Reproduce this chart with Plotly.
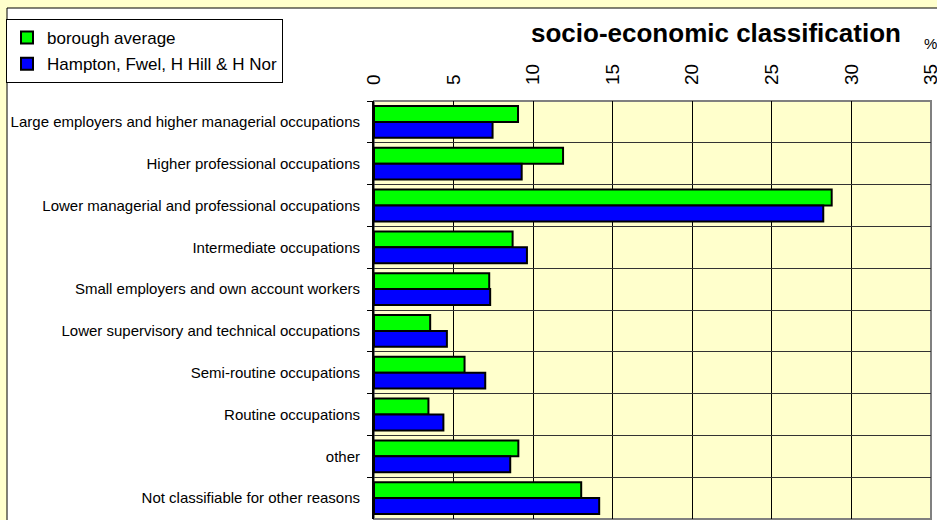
import plotly.graph_objects as go

categories = [
    "Large employers and higher managerial occupations",
    "Higher professional occupations",
    "Lower managerial and professional occupations",
    "Intermediate occupations",
    "Small employers and own account workers",
    "Lower supervisory and technical occupations",
    "Semi-routine occupations",
    "Routine occupations",
    "other",
    "Not classifiable for other reasons",
]
borough_average = [9.05, 11.88, 28.76, 8.71, 7.24, 3.53, 5.69, 3.42, 9.07, 13.02]
hampton = [7.45, 9.28, 28.23, 9.61, 7.30, 4.58, 6.99, 4.36, 8.56, 14.15]
x_ticks = [0, 5, 10, 15, 20, 25, 30, 35]

W, H = 937, 520
L, R, T, B = 374, 6, 101, 1
pw, ph = W - L - R, H - T - B
X_MAX = 35


def fx(px):
    return (px - L) / pw


def fy(py):
    return (H - B - py) / ph


FONT = "Arial, Liberation Sans, sans-serif"

fig = go.Figure()
fig.add_trace(go.Bar(
    y=categories, x=borough_average, orientation="h", name="borough average",
    marker=dict(color="#00FF00", line=dict(color="black", width=2)),
    legendgroup="a",
))
fig.add_trace(go.Bar(
    y=categories, x=hampton, orientation="h", name="Hampton, Fwel, H Hill & H Nor",
    marker=dict(color="#0000FF", line=dict(color="black", width=2)),
    legendgroup="b",
))

fig.update_layout(
    width=W, height=H,
    margin=dict(l=L, r=R, t=T, b=B, pad=0, autoexpand=False),
    paper_bgcolor="#FFFFCC",
    plot_bgcolor="rgba(0,0,0,0)",
    font=dict(family=FONT, color="black"),
    barmode="group", bargap=0.24, bargroupgap=0.0,
    showlegend=True,
    legend=dict(
        x=fx(6), y=fy(19), xanchor="left", yanchor="top",
        bgcolor="white", bordercolor="black", borderwidth=1,
        font=dict(size=17, family=FONT),
        traceorder="grouped", tracegroupgap=1,
        itemwidth=30,
    ),
    xaxis=dict(
        side="top", range=[0, X_MAX], tickvals=x_ticks, ticktext=[str(v) for v in x_ticks],
        tickangle=-90, tickfont=dict(size=19), ticks="", ticklabelstandoff=15,
        ticklabeloverflow="allow",
        showgrid=True, gridcolor="black", gridwidth=1, zeroline=False,
        showline=False, fixedrange=True, automargin=False,
    ),
    yaxis=dict(
        type="category", autorange="reversed", tickson="boundaries",
        ticks="outside", ticklen=5, tickcolor="black",
        tickfont=dict(size=15), ticklabelstandoff=9,
        showgrid=True, gridcolor="#333333", gridwidth=1,
        showline=True, linecolor="black", linewidth=2, zeroline=False,
        fixedrange=True, automargin=False,
    ),
    shapes=[
        dict(type="rect", xref="paper", yref="paper", x0=fx(7), x1=1.2, y0=-0.2, y1=fy(8),
             fillcolor="white", line=dict(color="black", width=1), layer="below"),
        dict(type="rect", xref="paper", yref="paper", x0=0, x1=1, y0=0, y1=1,
             fillcolor="#FFFFCC", line=dict(color="#808080", width=2), layer="below"),
    ],
    annotations=[
        dict(text="<b>socio-economic classification</b>", xref="paper", yref="paper",
             x=fx(716), y=fy(33), xanchor="center", yanchor="middle", showarrow=False,
             font=dict(size=26, family=FONT)),
        dict(text="%", xref="paper", yref="paper", x=fx(930), y=fy(44),
             xanchor="center", yanchor="middle", showarrow=False,
             font=dict(size=15, family=FONT, color="black")),
    ],
)

fig.write_html(
    "out.html",
    config={"displayModeBar": False, "staticPlot": True},
    post_script="document.body.style.margin='0';document.body.style.overflow='hidden';",
)
